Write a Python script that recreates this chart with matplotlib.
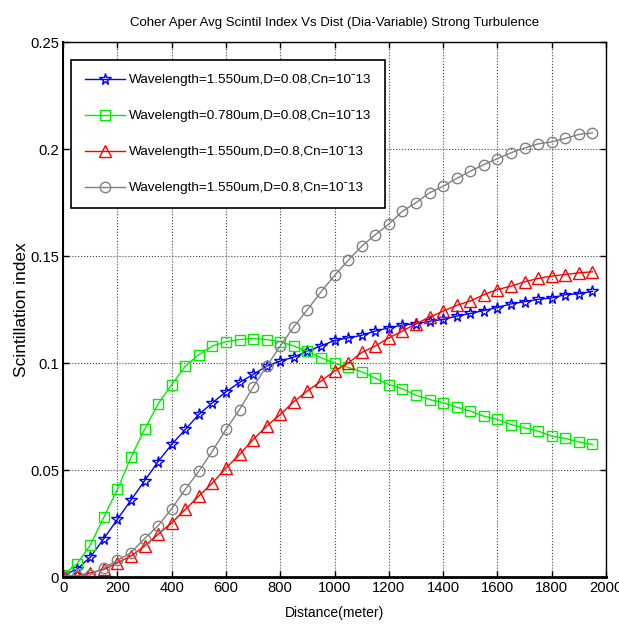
import matplotlib
matplotlib.use("Agg")
import matplotlib.pyplot as plt
from matplotlib import font_manager

distance = list(range(0, 2000, 50))

blue_155_d008 = [0.001, 0.0036, 0.0093, 0.018, 0.027, 0.036, 0.045, 0.054, 0.062, 0.069,
                 0.076, 0.0815, 0.0866, 0.091, 0.0947, 0.0986, 0.101, 0.1028, 0.1056, 0.108,
                 0.1106, 0.1118, 0.113, 0.115, 0.1165, 0.1178, 0.1184, 0.1196, 0.1204, 0.122,
                 0.1232, 0.1246, 0.126, 0.1277, 0.1287, 0.1298, 0.1305, 0.132, 0.1324, 0.1336]

green_078_d008 = [0.001, 0.006, 0.015, 0.028, 0.041, 0.056, 0.069, 0.081, 0.090, 0.0986,
                  0.104, 0.108, 0.110, 0.111, 0.1115, 0.111, 0.110, 0.108, 0.1056, 0.1025,
                  0.100, 0.098, 0.096, 0.093, 0.090, 0.088, 0.085, 0.083, 0.0815, 0.0794,
                  0.0776, 0.0752, 0.0737, 0.0713, 0.0698, 0.0682, 0.0659, 0.0648, 0.0632, 0.062]

red_155_d08 = [0.0005, 0.0005, 0.002, 0.0036, 0.0067, 0.0098, 0.0145, 0.020, 0.0254, 0.0316,
               0.0379, 0.044, 0.051, 0.0573, 0.0643, 0.0706, 0.076, 0.082, 0.087, 0.0916,
               0.0963, 0.100, 0.105, 0.108, 0.1118, 0.115, 0.1184, 0.1215, 0.1243, 0.127,
               0.129, 0.132, 0.1344, 0.136, 0.138, 0.1396, 0.1407, 0.1414, 0.1422, 0.1427]

gray_155_d08 = [0.0005, 0.0005, 0.001, 0.0044, 0.0078, 0.0114, 0.018, 0.024, 0.032, 0.041,
                0.0495, 0.0589, 0.069, 0.0783, 0.0888, 0.0986, 0.108, 0.117, 0.125, 0.1333,
                0.141, 0.148, 0.1547, 0.160, 0.165, 0.171, 0.175, 0.1796, 0.1827, 0.1863,
                0.1897, 0.1928, 0.1956, 0.1983, 0.2006, 0.2025, 0.2034, 0.205, 0.2069, 0.2076]

labels = ["Wavelength=1.550um,D=0.08,Cn=10ˉ13",
          "Wavelength=0.780um,D=0.08,Cn=10ˉ13",
          "Wavelength=1.550um,D=0.8,Cn=10ˉ13",
          "Wavelength=1.550um,D=0.8,Cn=10ˉ13"]

xticks = [0, 200, 400, 600, 800, 1000, 1200, 1400, 1600, 1800, 2000]
yticks = [0, 0.05, 0.1, 0.15, 0.2, 0.25]
ytick_labels = ["0", "0.05", "0.1", "0.15", "0.2", "0.25"]

names = {f.name for f in font_manager.fontManager.ttflist}
if "Liberation Sans Narrow" in names:
    narrow = ["Liberation Sans Narrow", "DejaVu Sans"]
    fs_title, fs_tick, fs_leg, fs_xl = 11.5, 12.5, 12, 11.5
else:
    narrow = ["Liberation Sans", "DejaVu Sans"]
    fs_title, fs_tick, fs_leg, fs_xl = 9.5, 10.6, 9.7, 10

fig = plt.figure(figsize=(6.19, 6.30), dpi=100)
ax = fig.add_axes([0.102, 0.084, 0.877, 0.849])

series = [
    (blue_155_d008, "#0000ff", "*", 8.5),
    (green_078_d008, "#00ee00", "s", 7.5),
    (red_155_d08, "#ff0000", "^", 8.5),
    (gray_155_d08, "#808080", "o", 7.5),
]
for (vals, col, mk, ms), lab in zip(series, labels):
    ax.plot(distance, vals, color=col, lw=1.0, marker=mk, markersize=ms,
            markerfacecolor="none", markeredgecolor=col, markeredgewidth=1.0, label=lab)

ax.set_xlim(0, 2000)
ax.set_ylim(0, 0.25)
ax.set_xticks(xticks)
ax.set_xticklabels([str(t) for t in xticks], family=narrow, fontsize=fs_tick)
ax.set_yticks(yticks)
ax.set_yticklabels(ytick_labels, family=narrow, fontsize=fs_tick)
ax.tick_params(direction="in", top=True, right=True, length=4, width=1, pad=3)
ax.grid(True, color="#444444", linestyle=":", linewidth=0.8)
for sp in ax.spines.values():
    sp.set_linewidth(1.0)
ax.spines["bottom"].set_linewidth(2.0)
ax.spines["left"].set_linewidth(1.5)

ax.set_title("Coher Aper Avg Scintil Index Vs Dist (Dia-Variable) Strong Turbulence",
             family=narrow, fontsize=fs_title, pad=12)
ax.set_xlabel("Distance(meter)", family=narrow, fontsize=fs_xl, labelpad=8)
ax.set_ylabel("Scintillation index", family=["Liberation Sans", "DejaVu Sans"],
              fontsize=12.5, labelpad=1)

leg = ax.legend(loc="upper left", bbox_to_anchor=(0.0147, 0.966),
                prop={"family": narrow, "size": fs_leg}, fancybox=False, framealpha=1,
                edgecolor="black", handlelength=3.0, labelspacing=1.75,
                borderpad=1.0, handletextpad=0.3, borderaxespad=0.0)
leg.get_frame().set_linewidth(1.2)

fig.savefig("out.png", dpi=100)
